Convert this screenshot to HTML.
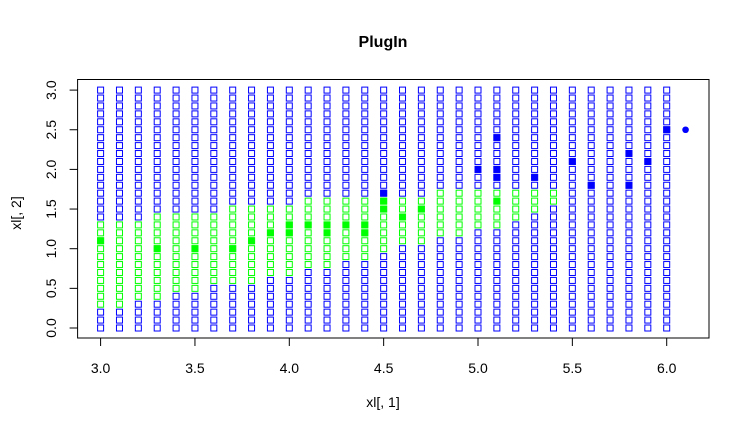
<!DOCTYPE html>
<html><head><meta charset="utf-8"><style>
body{margin:0;background:#fff;}
svg{display:block;font-family:"Liberation Sans",Arial,sans-serif;}
</style></head><body>
<svg id="chart" width="730" height="436" viewBox="0 0 730 436">
<text x="383" y="47" text-anchor="middle" font-size="16" font-weight="bold">PlugIn</text>
<rect x="77.6" y="79.5" width="631.4" height="258.5" fill="none" stroke="#000" stroke-width="1"/>
<g id="xaxis"></g>
<g id="yaxis"></g>
<g id="grid"></g>
<g id="filled"></g>
<text x="383" y="407" text-anchor="middle" font-size="14">xl[, 1]</text>
<text transform="translate(21,213) rotate(-90)" text-anchor="middle" font-size="14">xl[, 2]</text>
</svg>
<script>
const colX = [3.0,3.1,3.2,3.3,3.4,3.5,3.6,3.7,3.8,3.9,4.0,4.1,4.2,4.3,4.4,4.5,4.6,4.7,4.8,4.9,5.0,5.1,5.2,5.3,5.4,5.5,5.6,5.7,5.8,5.9,6.0];
const greenLo = [0.3,0.3,0.4,0.4,0.5,0.5,0.6,0.6,0.6,0.7,0.7,0.8,0.8,0.9,0.9,1.0,1.1,1.1,1.2,1.2,1.3,1.3,1.4,1.5,1.6,null,null,null,null,null,null];
const greenHi = [1.3,1.3,1.3,1.4,1.4,1.4,1.4,1.5,1.5,1.5,1.5,1.6,1.6,1.6,1.6,1.6,1.6,1.6,1.7,1.7,1.7,1.7,1.7,1.7,1.7,null,null,null,null,null,null];
const greenFillX = [3.0,3.3,3.5,3.7,3.8,3.9,4.0,4.0,4.1,4.2,4.2,4.3,4.4,4.4,4.5,4.5,4.6,4.7,5.1];
const greenFillY = [1.1,1.0,1.0,1.0,1.1,1.2,1.3,1.2,1.3,1.3,1.2,1.3,1.3,1.2,1.6,1.5,1.4,1.5,1.6];
const blueFillX = [4.5,5.0,5.1,5.1,5.1,5.3,5.5,5.6,5.8,5.8,5.9,6.0];
const blueFillY = [1.7,2.0,2.4,2.0,1.9,1.9,2.1,1.8,2.2,1.8,2.1,2.5];
const pointX = [6.1];
const pointY = [2.5];
const xTicks = ["3.0","3.5","4.0","4.5","5.0","5.5","6.0"];
const yTicks = ["0.0","0.5","1.0","1.5","2.0","2.5","3.0"];

const NS="http://www.w3.org/2000/svg";
function sx(v){return 100.6+(v-3.0)*188.7;}
function sy(v){return 328-v*79.3;}
function mk(tag,attrs,parent){const e=document.createElementNS(NS,tag);for(const k in attrs)e.setAttribute(k,attrs[k]);parent.appendChild(e);return e;}

const xa=document.getElementById('xaxis');
xTicks.forEach(t=>{const v=parseFloat(t),x=sx(v);
  const l=mk('line',{x1:x,x2:x,y1:338,y2:346,stroke:'#000'},xa);
  
  
  const tx=mk('text',{x:x,y:373,'text-anchor':'middle','font-size':'14'},xa);tx.textContent=t;
  
  
});
const ya=document.getElementById('yaxis');
yTicks.forEach(t=>{const v=parseFloat(t),y=sy(v);
  const l=mk('line',{x1:69.6,x2:77.6,y1:y,y2:y,stroke:'#000'},ya);
  
  
  const tx=mk('text',{transform:`translate(56,${y}) rotate(-90)`,'text-anchor':'middle','font-size':'14'},ya);tx.textContent=t;
  
  
});
const g=document.getElementById('grid');
colX.forEach((xv,i)=>{
  for(let r=0;r<=30;r++){const yv=r/10;
    const green=greenLo[i]!==null&&yv>=greenLo[i]-1e-9&&yv<=greenHi[i]+1e-9;
    const s=mk('rect',{x:sx(xv)-3,y:sy(yv)-3,width:6,height:6,fill:'none',stroke:green?'#00ff00':'#0000ff','stroke-width':1},g);
    
    
  }
});
const f=document.getElementById('filled');
greenFillX.forEach((xv,i)=>{const s=mk('rect',{x:sx(xv)-3.5,y:sy(greenFillY[i])-3.5,width:7,height:7,fill:'#00ff00'},f);
  
  });
blueFillX.forEach((xv,i)=>{const s=mk('rect',{x:sx(xv)-3.5,y:sy(blueFillY[i])-3.5,width:7,height:7,fill:'#0000ff'},f);
  
  });
pointX.forEach((xv,i)=>{const c=mk('circle',{cx:sx(xv),cy:sy(pointY[i]),r:3.3,fill:'#0000ff'},f);
  
  });
</script>
</body></html>
